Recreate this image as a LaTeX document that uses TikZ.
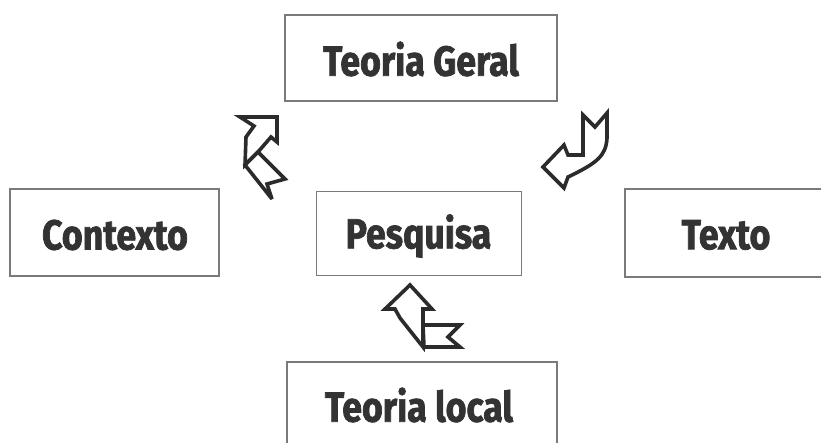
\documentclass[tikz,border=0pt]{standalone}
\usepackage{fontspec}
\newfontfamily\boxfont[FakeStretch=0.85,FakeBold=1.7]{Fira Sans}
\definecolor{boxline}{HTML}{7A7A7A}
\definecolor{inkc}{HTML}{2B2B2B}
\definecolor{txt}{HTML}{333333}
\begin{document}
\begin{tikzpicture}[x=1pt,y=-1pt,
  box/.style={draw=boxline,line width=1.6pt,fill=white,inner sep=0pt},
  label/.style={font=\boxfont\bfseries\fontsize{42}{42}\selectfont,text=txt,inner sep=0pt},
  ribbon/.style={draw=inkc,line width=3.6pt,fill=white,line join=miter,miter limit=4}]
\useasboundingbox (0,0) rectangle (821,443);
% boxes
\node[box,minimum width=272pt,minimum height=86pt] (geral) at (421,58) {};
\node[label] (tgeral) at (421,59) {Teoria Geral};
\node[box,minimum width=209pt,minimum height=87pt] (contexto) at (114.5,232.5) {};
\node[label] (tcontexto) at (115,235) {Contexto};
\node[box,minimum width=205pt,minimum height=84pt] (pesquisa) at (419,233.5) {};
\node[label] (tpesquisa) at (418.5,236) {Pesquisa};
\node[box,minimum width=220pt,minimum height=88pt] (texto) at (735,233) {};
\node[label] (ttexto) at (726,235) {Texto};
\node[box,minimum width=270pt,minimum height=100pt] (local) at (422,412) {};
\node[label] (tlocal) at (419,405) {Teoria local};
% arrow 1: Contexto -> Teoria Geral (upper left)
\draw[ribbon] (240,117) -- (277,117) -- (277,142) -- (271,137) -- (258,152) -- (245,165) -- (246,137) -- (254,126) -- cycle;
\draw[ribbon] (258,152) -- (285,179) -- (267,184) -- (272,199) -- (245,165) -- cycle;
% arrow 2: Teoria Geral -> Pesquisa (upper right)
\draw[ribbon] (543,167) -- (564,145) -- (568,155) -- (583,155) -- (583,115) -- (595,127) -- (607,113) -- (607,138)
   .. controls (606,156) and (597,163) .. (568,177) -- (564,188) -- cycle;
% arrow 3: Teoria local -> Pesquisa (bottom)
\draw[ribbon] (410,285) -- (432,309) -- (423,309) -- (423,347) -- (400,318) -- (395,309) -- (385,309) -- cycle;
\draw[ribbon] (423,325) -- (460,325) -- (448,337) -- (460,347) -- (424,347) -- cycle;
\end{tikzpicture}
\end{document}
